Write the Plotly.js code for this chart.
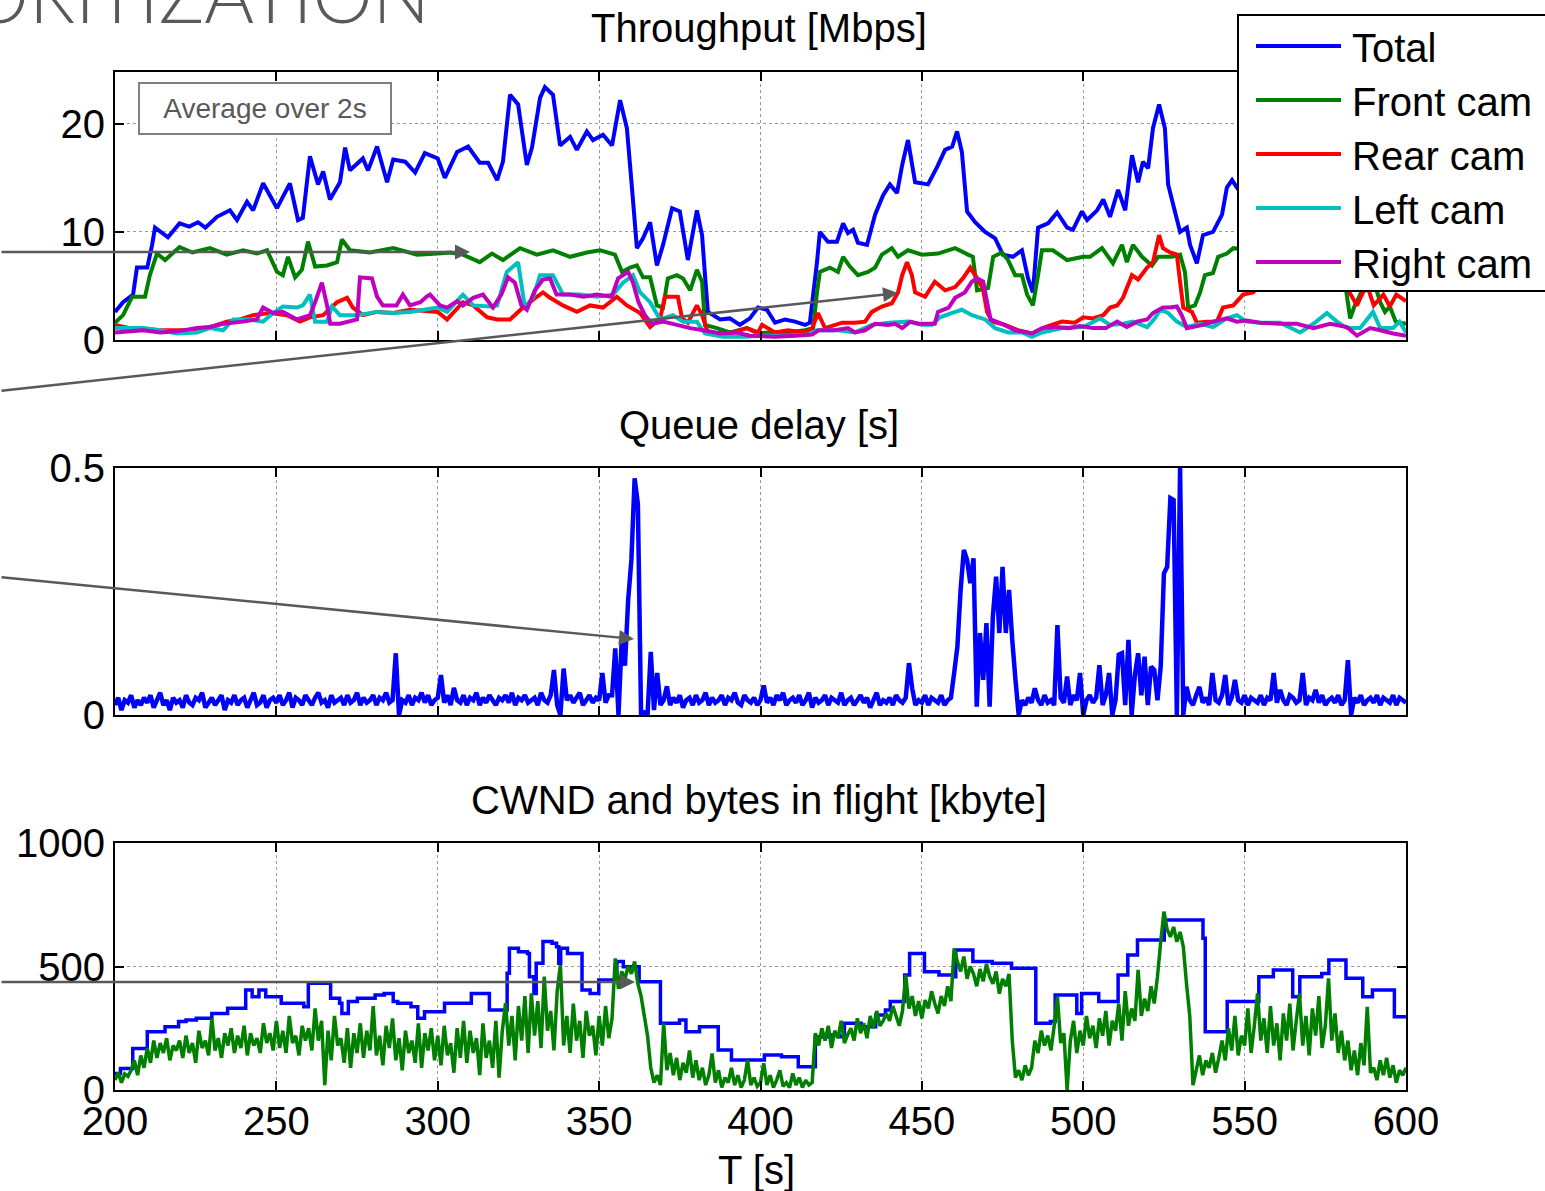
<!DOCTYPE html>
<html><head><meta charset="utf-8">
<script src="https://cdn.plot.ly/plotly-3.0.1.min.js"></script>
<style>html,body{margin:0;padding:0;background:#fff;}#chart{width:1545px;height:1191px;}</style>
</head><body><div id="chart"></div>
<script>
// ---------------- DATA ----------------
const seriesNames = ['Total', 'Front cam', 'Rear cam', 'Left cam', 'Right cam'];
const seriesColors = ['#0000ff', '#008000', '#ff0000', '#00bfbf', '#bf00bf'];
const panelTitles = ['Throughput [Mbps]', 'Queue delay [s]', 'CWND and bytes in flight [kbyte]'];
const xTitle = 'T [s]';
const xTicks = [200, 250, 300, 350, 400, 450, 500, 550, 600];
const yTicksThroughput = [0, 10, 20];
const yTicksDelay = [0, 0.5];
const yTicksCwnd = [0, 500, 1000];
const noteText = 'Average over 2s';
const headerText = 'PRIORITIZATION';

// Throughput [Mbps]: [time s, value]
const totalPts = [[200,2.6],[202.5,3.5],[205.6,4.2],[206.8,6.7],[210,6.7],[211.5,8.8],[212.4,10.4],[216.4,9.5],[220,10.8],[223,10.5],[225.7,10.9],[228,10.4],[231.6,11.4],[235.6,12],[237.8,11.1],[240.9,12.8],[242.8,12],[245.9,14.5],[250.2,12.2],[254.2,14.5],[256.7,11.1],[258.2,11.3],[260.4,17],[262.9,14.4],[264.5,15.6],[266.6,13],[269.7,14.6],[271.3,17.8],[272.8,15.7],[276.8,16.8],[278.4,15.7],[281.2,17.9],[284.3,14.6],[286.2,16.7],[289.9,16.5],[293,15.5],[296,17.3],[300,16.8],[302.2,15],[306,17.4],[309.4,17.9],[313,16.4],[315.6,16.4],[318.4,14.8],[320.2,16.5],[322.4,22.7],[324.9,21.8],[327.6,16.2],[329.2,17.8],[331.7,22.4],[333.2,23.4],[335.7,22.7],[337.9,18],[341,18.8],[343.1,17.6],[346.2,19.3],[348.1,18.5],[351.2,19],[354,18],[356.5,22.2],[358.6,19.6],[360.2,14],[361.7,8.5],[363.6,9.4],[365.8,10.9],[367.9,6.9],[369.8,8.8],[372.6,12.2],[375,11.9],[377.5,7.4],[380.3,12],[381.9,9.7],[382.8,6],[383.7,2.6],[387.5,1.9],[390.5,2],[393.6,1.4],[396.7,2],[399.2,3],[402,2.8],[404.5,1.6],[407.6,1.9],[410.7,1.7],[413.8,1.4],[415.3,1.6],[417.5,7.2],[418.4,10],[420.9,9.1],[423.7,9.1],[425.6,10.8],[427.1,9.9],[428.7,10.2],[430.2,9],[433,8.8],[435.5,11.6],[438,13.4],[440.1,14.4],[442.3,13.6],[443.9,16.2],[445.7,18.5],[447.9,14.6],[451.9,14.4],[454.7,16],[457.2,17.6],[459.4,17.9],[460.9,19.3],[462.4,17.4],[464,11.9],[466.5,10.9],[469.6,10],[472.7,9.4],[475.1,7.9],[478.2,7.7],[481,8.3],[482.9,5.7],[484.4,4.4],[486,10.4],[489.1,10.8],[491.9,11.8],[495,10.4],[496.8,10.2],[499.6,11.9],[501.2,11.1],[504.3,12],[506.2,13],[508.3,11.4],[510.8,13.9],[513,12],[515.1,17.1],[517,14.6],[518.5,16.5],[520.1,15.9],[521.6,19.6],[523.5,21.8],[525.3,19.6],[526.3,14.4],[528.4,11.9],[530,10],[532.1,10.4],[533.1,8.8],[535.2,7.1],[537.1,9.7],[540.2,10],[543,11.6],[544.5,14.1],[546.1,14.8],[547.6,14.1],[552,12.5],[558,11],[565,12],[572,10],[580,9],[588,10.5],[595,9],[600,8]];
const frontPts = [[200,1.6],[202.5,2.3],[205.3,4],[209.3,4],[210.8,6],[213,8],[215.5,7.4],[220,8.6],[224,8.1],[229.4,8.5],[234.6,7.9],[239.7,8.3],[244,8],[247.1,8.3],[250.2,6.3],[252,6],[253.6,7.7],[255.8,5.8],[257.9,6.5],[259.8,9.1],[262,6.8],[265.7,6.9],[268.8,7.2],[270.3,9.3],[272.8,8.3],[279,8.1],[286.2,8.5],[293.6,7.9],[300,8],[303.8,8.1],[307.8,7.9],[313,7.2],[316.8,8],[320.2,7.4],[325.5,8.5],[330.7,7.9],[335.7,8.3],[341,7.7],[346.2,8.1],[350.3,8.3],[354.9,7.9],[357.1,6.3],[359.6,6.7],[361.7,6.9],[363.6,5.8],[365.8,5.8],[367.9,3.2],[369.8,3],[371.3,5.7],[374.1,6],[376,5.7],[378.2,4.6],[380.3,6.5],[381.9,5.4],[382.8,1.4],[386.5,1.1],[390.5,0.7],[395.8,1.1],[399.2,0.6],[402.3,0.7],[408.5,0.7],[413.8,0.9],[416.3,1.1],[417.5,4.4],[418.4,6.3],[421.5,6.7],[424,6.3],[425.6,7.7],[427.7,6.8],[430.2,6],[433.3,6.3],[435.5,6.7],[437.6,7.9],[440.7,8.5],[442.6,7.7],[445.7,8.3],[450,7.9],[455,8],[460.3,8.5],[464.3,7.9],[465.8,7.7],[467.1,4.6],[470.5,4.8],[472.1,7.7],[474.8,8.1],[476.7,7.4],[478.9,6],[481,6],[482.6,4.2],[484.4,3.2],[486,6],[487.2,8.3],[490.6,8.3],[495,7.4],[500,7.7],[502.1,7.7],[505.8,8.5],[509.2,7.1],[512,8.8],[513.5,7.2],[515.4,8.8],[518.2,7.7],[521.3,6.9],[523.2,7.7],[527.5,7.7],[530,7.9],[531.5,6.3],[532.5,3],[534.6,3.2],[536.2,4.4],[537.7,6],[540.2,6.2],[541.8,7.7],[544.5,8],[546.5,8.5],[552,8.3],[560,8],[570,8.2],[578,7.5],[581,5.5],[582.7,2],[584,3.1],[585.8,4.2],[587.5,5.5],[590,5.5],[592,3.5],[593.5,2.6],[595,3.1],[596.8,1.7],[599.4,1.5],[600,1.6]];
const rearPts = [[200,1.4],[204.6,1.1],[214,0.9],[224.2,0.9],[229.4,1.2],[234.6,1.7],[238.7,1.9],[242.8,2.3],[248,2.5],[253.3,2.3],[257.3,1.7],[260.4,2.1],[264.5,2.3],[268.8,3.5],[271.9,3.9],[273.7,3],[276.8,2.3],[281.2,2.6],[286.2,2.5],[291.4,2.8],[300,2.6],[302.9,1.9],[307.8,3.5],[311,3.2],[315.3,2.1],[318.4,1.9],[322.4,1.9],[326.4,3],[330.7,4],[332.6,4.4],[334.8,3.9],[338.8,3.2],[343.1,2.6],[347.2,3.2],[351.2,3],[355.5,4],[358.6,3.2],[362.7,2.5],[365.8,1.2],[368.9,2],[370.4,4],[374.4,4],[375.7,2],[377.5,1.6],[380.3,3.2],[381.9,2.3],[383.7,0.7],[390.5,0.6],[395.8,1.1],[399.2,0.7],[400.5,1.4],[404.5,0.7],[408.5,0.9],[413.8,0.7],[416,1.1],[417.8,2.5],[420,1.1],[425.3,1.6],[429.3,1.6],[432.4,1.7],[434.5,2.6],[437.6,3.1],[440.7,3.4],[442.6,4.4],[443.9,6],[445.4,7.2],[446.9,6],[447.9,4.4],[451,4],[454,5.4],[457.2,4.6],[460.3,4.9],[462.7,5.7],[465,6.7],[467.1,5.7],[468.9,4.8],[470.2,2.6],[471.7,1.7],[475.8,1.4],[479.8,0.9],[484.1,0.6],[488.2,1.2],[493.4,1.7],[497.4,1.6],[500,2.1],[503,2],[506.2,2.3],[508.3,3],[510.5,3.2],[512.3,3.9],[515.1,6],[517,5.6],[519.8,6.7],[521.6,7.2],[523.5,9.7],[524.7,8.5],[526.9,8.1],[529,7.9],[530,5.4],[531,3],[533.7,2.6],[535.2,1.6],[538.3,1.7],[541.4,1.7],[543.3,3],[546.5,3.2],[549.5,4.2],[552.6,4.4],[558,6],[565,7],[572,6.5],[579,6],[582.7,4.3],[584.8,3.2],[586.5,4.3],[588,5],[590,3.2],[593,4.2],[595,3.1],[597,4.2],[600,3.6]];
const leftPts = [[200,1.1],[208.7,1.1],[214,0.9],[219.2,0.6],[225.4,0.7],[229.4,1.1],[233.5,0.9],[236.6,1.9],[241.8,1.9],[245.9,1.7],[249,2.5],[252,3.1],[256.4,3],[258.2,3.2],[260.4,4.2],[262,1.7],[265.7,1.7],[267.2,3.1],[269.7,2.3],[275,2.3],[281.2,2.6],[286.2,2.5],[291.4,2.6],[300,3],[302.9,2.6],[307.8,4.2],[311,3.2],[316.2,3.1],[318.4,3.2],[321.4,6.3],[324.9,7.2],[327,3],[329.5,3.9],[331.7,6],[335.7,6],[338.8,4.2],[344.1,4.2],[349.3,4],[354.3,4.2],[357.4,5.3],[360.5,6],[362.7,4.4],[365.8,3.5],[368.9,1.9],[372.9,2.3],[376,1.7],[380.3,1.7],[382.8,0.6],[388.4,0.3],[395.8,0.3],[398.3,0.4],[408.5,0.4],[415,0.5],[417.5,0.9],[424,0.9],[429.3,0.7],[434.5,1.4],[439.6,1.6],[445.7,1.7],[450,1.4],[453.1,1.4],[455.6,2.1],[459.4,2.5],[462.4,2.8],[465.5,2.3],[469.6,1.9],[472.7,1.1],[476.7,0.7],[481,0.7],[484.1,0.3],[487.2,0.7],[493.4,1.1],[500,1.2],[502,1.5],[505.2,2],[508.3,1.4],[512.4,1.5],[515.4,1.7],[519.8,1.2],[522.2,2],[523.8,2.8],[526.3,2.5],[529,1.7],[532.1,1.2],[536.2,1.5],[540.2,1.2],[544.5,2],[547.6,2.3],[550.6,1.7],[554.8,1.6],[561,1.6],[567.2,0.7],[571.3,1.5],[575.5,2.5],[578.6,1.7],[581.7,1.1],[585.8,1.1],[589.8,2.6],[592,1.1],[596,1.1],[598,1.7],[600,0.7]];
const rightPts = [[200,0.7],[208.7,0.9],[214,0.7],[219.2,0.8],[225.4,1.1],[229.4,1.2],[233.5,1.5],[239.7,1.7],[243.9,1.9],[245.9,3],[249,2.5],[252,2.6],[256.4,1.9],[260.4,2.3],[262,3.5],[264.1,5.3],[265.7,3.2],[266.7,1.5],[269.7,1.5],[275,1.9],[275.9,5.8],[279.6,5.7],[281.2,4],[283,3.2],[287.2,3.2],[289.2,4.2],[291.4,3.2],[294.6,3.5],[296.5,4],[297.6,4.2],[300.7,3.2],[302.9,3],[306,3.6],[307.8,3.2],[311,3.9],[314,4.2],[317.1,3],[319.7,4.2],[321.8,5.8],[323.9,5.3],[325.9,3.2],[327.6,2.8],[330.1,4.6],[332.6,5.6],[334.8,5.7],[336.8,4.2],[341,4.2],[345.2,4],[349.3,4.2],[353.9,4],[355.9,5.7],[359,6.3],[360.5,5.3],[362.2,3.5],[364.2,2.3],[366.3,1.5],[369.8,1.7],[374.1,1.4],[378.2,1.1],[382.3,0.9],[387.5,0.6],[392.6,0.7],[396.7,0.4],[404.5,0.3],[410.7,0.4],[416,0.5],[418,0.9],[423,0.9],[427.1,1.1],[429.3,0.7],[432.4,0.9],[435.5,1.5],[439.6,1.4],[441.7,1.5],[443.9,1.1],[446.4,1.7],[449,1.5],[454,1.5],[455,2.6],[458.3,3],[460.3,3.9],[463.3,4.4],[465.5,5.4],[467.1,5.7],[469,5.4],[470.2,3.5],[471.3,1.9],[474.8,1.5],[478.9,0.9],[484.1,0.6],[487.2,1.1],[491.4,1.2],[495.5,1.1],[499,1.3],[503,1.1],[507,1.1],[510.5,1.7],[513.5,1.2],[516.6,1.7],[519.8,1.9],[521.6,2.5],[524.7,3],[526.9,3],[529,3.1],[530.5,2.3],[532.1,1.1],[537.1,1.4],[540.2,1.7],[544.5,2],[547.6,1.7],[550.6,1.8],[554.8,1.6],[561,1.5],[566.2,1.5],[571.3,1.1],[576.5,1.5],[581.7,1.2],[584.8,0.4],[588.9,1.1],[592,0.9],[596,0.6],[600,0.4]];

// Queue delay [s], one value per second starting at T = 200 s
const delayStart = 200;
const queueDelay = [
0.02,0.035,0.01,0.03,0.025,0.04,0.015,0.03,0.02,0.035,
0.025,0.04,0.015,0.03,0.045,0.02,0.03,0.01,0.035,0.025,
0.03,0.015,0.04,0.025,0.02,0.035,0.03,0.045,0.015,0.025,
0.035,0.02,0.03,0.04,0.01,0.03,0.025,0.04,0.02,0.03,
0.035,0.015,0.03,0.045,0.02,0.025,0.04,0.015,0.03,0.035,
0.025,0.04,0.02,0.03,0.045,0.015,0.035,0.03,0.02,0.04,
0.03,0.02,0.035,0.045,0.025,0.03,0.015,0.04,0.025,0.03,
0.035,0.02,0.04,0.025,0.03,0.045,0.02,0.035,0.025,0.03,
0.04,0.02,0.035,0.03,0.045,0.025,0.03,0.125,0.0,0.03,
0.025,0.04,0.02,0.035,0.03,0.045,0.025,0.04,0.02,0.03,
0.035,0.081,0.025,0.04,0.02,0.055,0.03,0.025,0.04,0.02,
0.035,0.03,0.045,0.02,0.035,0.025,0.04,0.03,0.02,0.035,
0.03,0.04,0.025,0.045,0.02,0.035,0.03,0.04,0.025,0.03,
0.035,0.02,0.045,0.03,0.025,0.04,0.091,0.02,0.0,0.094,
0.03,0.04,0.025,0.035,0.045,0.02,0.03,0.04,0.025,0.035,
0.03,0.085,0.025,0.04,0.04,0.135,0.0,0.152,0.1,0.233,
0.314,0.479,0.428,0.0,0.005,0.0,0.128,0.01,0.085,0.02,
0.03,0.058,0.02,0.035,0.025,0.04,0.015,0.03,0.035,0.02,
0.04,0.025,0.03,0.045,0.02,0.035,0.025,0.03,0.04,0.02,
0.035,0.03,0.045,0.025,0.02,0.04,0.03,0.025,0.035,0.02,
0.03,0.06,0.025,0.035,0.02,0.04,0.03,0.045,0.02,0.03,
0.035,0.025,0.04,0.02,0.03,0.045,0.015,0.035,0.025,0.03,
0.04,0.02,0.035,0.03,0.025,0.045,0.02,0.03,0.035,0.02,
0.03,0.04,0.025,0.035,0.015,0.03,0.045,0.02,0.03,0.025,
0.035,0.02,0.04,0.03,0.025,0.035,0.105,0.054,0.02,0.03,
0.025,0.04,0.02,0.035,0.03,0.025,0.04,0.02,0.03,0.035,
0.085,0.138,0.253,0.334,0.314,0.267,0.317,0.017,0.166,0.071,
0.186,0.017,0.2,0.28,0.166,0.3,0.166,0.253,0.152,0.071,
0.0,0.03,0.02,0.035,0.025,0.054,0.03,0.02,0.04,0.025,
0.03,0.02,0.182,0.035,0.025,0.078,0.02,0.04,0.03,0.085,
0.0,0.03,0.04,0.025,0.035,0.101,0.02,0.04,0.085,0.0,
0.03,0.122,0.125,0.02,0.152,0.0,0.081,0.125,0.04,0.118,
0.02,0.098,0.091,0.03,0.098,0.287,0.3,0.439,0.435,0.0,
0.5,0.0,0.057,0.03,0.02,0.04,0.057,0.025,0.035,0.02,
0.085,0.03,0.025,0.04,0.081,0.02,0.035,0.071,0.03,0.025,
0.04,0.02,0.035,0.03,0.025,0.04,0.02,0.035,0.03,0.085,
0.025,0.051,0.03,0.02,0.04,0.035,0.025,0.03,0.085,0.02,
0.035,0.03,0.051,0.025,0.04,0.02,0.03,0.035,0.025,0.04,
0.02,0.03,0.111,0.0,0.035,0.025,0.04,0.02,0.03,0.035,
0.025,0.04,0.02,0.035,0.03,0.025,0.04,0.02,0.035,0.03,
0.025];

// CWND [kbyte], step changes: times and values
const cwndT = [200,201.7,205.5,210,215.5,219.7,222,225.2,230,234.9,240.5,242.5,244.6,246.7,251.5,258.5,259.9,266.8,269.6,270.3,272.3,275.1,280.6,283.4,286.2,287.6,291.7,293.8,295.9,302.1,310.4,316,321.5,322.2,325,327.8,328.4,329.8,330.5,332.6,335.4,336.8,337.5,338.1,340.2,344.7,347.2,349.9,355.5,357.5,362.4,369,374.9,376.9,381.1,386.9,391,396.7,401.2,406.5,411.7,417,420.7,424.5,426,431.2,435.7,438.7,440.2,444.7,446.2,450.8,455.3,459.8,460.5,465.8,471.8,477.8,485.3,489.8,491.3,498,499.5,504.8,510.8,513.8,516.8,525.1,537.1,537.8,544.6,554.4,558.9,564.9,567.1,573.9,576.1,581.4,586.6,589.6,596.4,600];
const cwndV = [67,87,168,236,256,277,283,290,310,331,405,378,405,378,351,337,432,371,351,310,358,371,385,391,358,351,337,290,317,351,391,324,473,574,560,553,459,391,513,601,594,580,513,574,553,405,391,445,520,499,438,270,283,236,256,162,121,121,142,135,94,216,223,216,270,256,304,324,358,466,553,479,466,459,567,520,513,493,270,277,385,310,391,358,466,547,607,688,614,236,358,459,486,378,459,472,526,452,378,405,297,297];

// Bytes in flight [kbyte], one value per second starting at T = 200 s
const flightStart = 200;
const bytesInFlight = [
40,70,30,65,55,80,120,60,140,90,
170,110,200,130,190,150,210,120,180,160,
200,130,220,150,190,110,240,170,200,140,
290,160,210,130,230,180,250,150,220,170,
260,140,230,180,210,150,270,190,230,160,
280,170,240,150,300,190,220,140,260,200,
250,160,330,200,280,20,240,120,300,180,
210,110,250,90,230,150,270,130,240,160,
340,140,220,100,260,170,290,120,210,80,
240,150,200,110,270,90,230,160,250,120,
220,100,260,140,190,70,250,130,280,110,
240,150,210,60,270,130,200,90,280,50,
240,351,180,300,120,340,200,380,150,391,
220,360,170,459,240,320,160,400,506,180,
300,150,350,200,280,130,320,220,260,140,
300,180,340,210,290,533,410,480,450,500,
470,520,430,380,300,220,90,30,60,20,
270,80,150,60,130,40,110,70,160,50,
120,40,90,20,60,148,30,80,10,50,
30,90,20,60,10,40,121,20,50,15,
30,108,20,60,10,40,80,15,30,10,
67,20,50,10,40,20,30,230,180,250,
200,260,170,240,210,280,190,223,250,200,
290,230,270,210,300,250,320,260,280,310,
280,340,300,260,320,466,330,380,300,360,
290,364,330,400,350,310,380,340,420,360,
573,520,480,540,450,500,470,420,490,440,
510,460,430,480,390,450,420,470,200,50,
80,40,100,60,90,200,150,240,180,220,
160,260,378,190,230,0,200,280,150,240,
180,300,210,260,170,290,220,320,180,280,
240,350,200,400,260,330,280,486,300,370,
320,420,350,460,600,722,650,620,660,600,
640,580,430,300,20,80,140,60,120,90,
150,70,130,200,120,250,160,300,140,220,
180,330,150,260,391,200,290,150,340,180,
270,120,310,200,350,160,280,391,180,300,
140,330,220,380,170,260,452,200,310,150,
240,120,200,80,160,60,190,100,337,70,
90,40,120,60,130,50,100,30,80,60,
90];

// ---------------- LAYOUT HELPERS ----------------
const W = 1545, H = 1191, L = 115, R = 1406;
const px = x => (x - L) / (R - L);
const py = y => 1 - y / H;
const FONT = 'Liberation Sans, Arial, sans-serif';

const throughput = [totalPts, frontPts, rearPts, leftPts, rightPts];
const traces = throughput.map((pts, i) => ({
  type: 'scatter', mode: 'lines', name: seriesNames[i],
  x: pts.map(p => p[0]), y: pts.map(p => p[1]),
  xaxis: 'x', yaxis: 'y',
  line: {color: seriesColors[i], width: 4, simplify: false}
}));
traces.push({
  type: 'scatter', mode: 'lines', name: 'Queue delay',
  x: queueDelay.map((_, i) => delayStart + i), y: queueDelay,
  xaxis: 'x2', yaxis: 'y2', line: {color: '#0000ff', width: 4.5, simplify: false}
});
traces.push({
  type: 'scatter', mode: 'lines', name: 'CWND',
  x: cwndT, y: cwndV, xaxis: 'x3', yaxis: 'y3',
  line: {color: '#0000ff', width: 3.5, shape: 'hv', simplify: false}
});
traces.push({
  type: 'scatter', mode: 'lines', name: 'Bytes in flight',
  x: bytesInFlight.map((_, i) => flightStart + i), y: bytesInFlight,
  xaxis: 'x3', yaxis: 'y3', line: {color: '#007f00', width: 3.5, simplify: false}
});

const axBase = {
  showline: true, linecolor: '#000', linewidth: 2, mirror: 'ticks',
  ticks: 'inside', ticklen: 9, tickwidth: 2, tickcolor: '#000',
  showgrid: true, gridcolor: '#9a9a9a', griddash: 'dot', gridwidth: 1,
  zeroline: false, tickfont: {family: FONT, size: 40, color: '#000'}
};
const xBase = Object.assign({}, axBase, {range: [200, 600], tickvals: xTicks, domain: [0, 1]});

const layout = {
  width: W, height: H, showlegend: false,
  paper_bgcolor: '#fff', plot_bgcolor: '#fff',
  margin: {l: L, r: W - R, t: 0, b: 0},
  xaxis: Object.assign({}, xBase, {anchor: 'y', showticklabels: false}),
  xaxis2: Object.assign({}, xBase, {anchor: 'y2', showticklabels: false}),
  xaxis3: Object.assign({}, xBase, {anchor: 'y3', showticklabels: true, ticklabelstandoff: -5}),
  yaxis: Object.assign({}, axBase, {domain: [py(340), py(72)], range: [0, 24.8], tickvals: yTicksThroughput, anchor: 'x', ticklabelstandoff: 0}),
  yaxis2: Object.assign({}, axBase, {domain: [py(715), py(468)], range: [0, 0.5], tickvals: yTicksDelay, ticktext: yTicksDelay.map(String), anchor: 'x2', ticklabelstandoff: 0}),
  yaxis3: Object.assign({}, axBase, {domain: [py(1090), py(843)], range: [0, 1000], tickvals: yTicksCwnd, anchor: 'x3', ticklabelstandoff: 0}),
  shapes: [], annotations: []
};

// Panel titles
const titleY = [28, 425, 800];
panelTitles.forEach((t, i) => layout.annotations.push({
  xref: 'paper', yref: 'paper', x: px(759), y: py(titleY[i]), xanchor: 'center', yanchor: 'middle',
  text: t, showarrow: false, font: {family: FONT, size: 40, color: '#000'}
}));
layout.annotations.push({
  xref: 'paper', yref: 'paper', x: px(756), y: py(1170), xanchor: 'center', yanchor: 'middle',
  text: xTitle, showarrow: false, font: {family: FONT, size: 40, color: '#000'}
});
// Note box
layout.annotations.push({
  xref: 'paper', yref: 'paper', x: px(265), y: py(108.5), xanchor: 'center', yanchor: 'middle',
  text: noteText, showarrow: false, font: {family: FONT, size: 28, color: '#595959'},
  bgcolor: '#fff', bordercolor: '#7f7f7f', borderwidth: 2, borderpad: 0, width: 250, height: 49
});
// Cut-off slide header
layout.annotations.push({
  xref: 'paper', yref: 'paper', x: px(432), y: py(41), xanchor: 'right', yanchor: 'bottom',
  text: headerText, showarrow: false, font: {family: 'Lato, Liberation Sans, sans-serif', size: 76, color: '#595959', weight: 300}
});
// Pointer arrows from outside the chart
const arrows = [[470, 252, 0, 252], [898, 293, 0, 391], [634, 639, 0, 577], [635, 982, 0, 982]];
arrows.forEach(a => layout.annotations.push({
  xref: 'paper', yref: 'paper', x: px(a[0]), y: py(a[1]), ax: a[2] - a[0], ay: a[3] - a[1],
  axref: 'pixel', ayref: 'pixel', text: '', showarrow: true, arrowhead: 2, arrowsize: 1.2,
  arrowwidth: 2.5, arrowcolor: '#595959', standoff: 0
}));
// Legend (drawn manually, long line samples like the original)
layout.shapes.push({type: 'rect', xref: 'paper', yref: 'paper', x0: px(1238), x1: px(1570), y0: py(291), y1: py(15),
  line: {color: '#000', width: 2}, fillcolor: '#fff', layer: 'above'});
seriesNames.forEach((n, i) => {
  const yy = 46 + i * 54;
  layout.shapes.push({type: 'line', xref: 'paper', yref: 'paper', x0: px(1256), x1: px(1341), y0: py(yy), y1: py(yy),
    line: {color: seriesColors[i], width: 4}, layer: 'above'});
  layout.annotations.push({xref: 'paper', yref: 'paper', x: px(1350), y: py(yy + 2), xanchor: 'left', yanchor: 'middle',
    text: n, showarrow: false, font: {family: FONT, size: 40, color: '#000'}});
});

Plotly.newPlot('chart', traces, layout, {displayModeBar: false, responsive: false});
</script></body></html>
